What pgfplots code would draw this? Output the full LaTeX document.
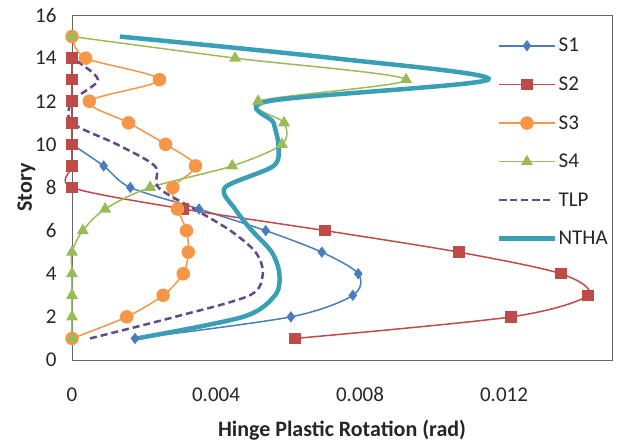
\documentclass[border=0pt]{standalone}
\usepackage{fontspec}
\setmainfont{Carlito}
\usepackage{pgfplots}
\pgfplotsset{compat=1.18}
\definecolor{cS1}{HTML}{4A7EBB}
\definecolor{cS2}{HTML}{BE4B48}
\definecolor{cS3}{HTML}{F79646}
\definecolor{cS4}{HTML}{9BBB59}
\definecolor{cTLP}{HTML}{5F4B8B}
\definecolor{cNTHA}{HTML}{3A9FB5}
\begin{document}
\begin{tikzpicture}
\begin{axis}[
  name=ax,
  scale only axis, width=540pt, height=345pt,
  xmin=0, xmax=0.015, ymin=0, ymax=16,
  scaled x ticks=false,
  xtick={0,0.004,0.008,0.012}, xticklabels={0,0.004,0.008,0.012},
  ytick={0,2,4,6,8,10,12,14,16},
  /pgf/number format/assume math mode=true,
  tick label style={font=\fontsize{21}{24}\selectfont, text=black!85},
  xticklabel style={yshift=-24pt},
  yticklabel style={xshift=-12pt},
  major tick length=0pt,
  axis line style={draw=gray!80!black, line width=0.8pt},
  clip=false,
  xlabel={\textbf{Hinge Plastic Rotation (rad)}},
  ylabel={\textbf{Story}},
  label style={font=\fontsize{22}{26}\selectfont, text=black!85},
  xlabel style={at={(axis description cs:0.5,-0.2203)}, anchor=base},
  ylabel style={at={(axis description cs:-0.0741,0.5)}, anchor=base},
  legend cell align=left,
  legend style={at={(rel axis cs:0.787,0.939)}, anchor=north west, draw=none, fill=none,
    font=\fontsize{21}{24}\selectfont, text=black!85, row sep=19.5pt, inner sep=0pt,
    nodes={inner sep=2pt}},
  legend image code/.code={\draw[mark repeat=2,mark phase=2] plot coordinates {(0pt,0pt) (27.5pt,0pt) (55pt,0pt)};},
  every axis plot/.append style={smooth, tension=0.5},
]
\addplot[cS1, line width=1.5pt, mark=diamond*, mark size=4.5pt, mark options={solid, fill=cS1, draw=cS1}]
 coordinates {(0.00175,1) (0.00608,2) (0.0078,3) (0.00795,4) (0.00694,5) (0.00538,6) (0.00353,7) (0.00162,8) (0.00088,9) (0,10)};
\addlegendentry{S1}
\addplot[cS2, line width=1.5pt, mark=square*, mark size=5pt, mark options={solid, fill=cS2, draw=cS2}]
 coordinates {(0.0062,1) (0.0122,2) (0.01433,3) (0.01358,4) (0.01075,5) (0.00703,6) (0.0031,7) (0,8) (0,9) (0,10) (0,11) (0,12) (0,13) (0,14)};
\addlegendentry{S2}
\addplot[cS3, line width=1.5pt, mark=*, mark size=6pt, mark options={solid, fill=cS3, draw=cS3}]
 coordinates {(0,1) (0.00152,2) (0.00253,3) (0.00309,4) (0.00323,5) (0.00318,6) (0.00293,7) (0.0028,8) (0.00343,9) (0.0026,10) (0.00157,11) (0.00048,12) (0.00243,13) (0.00038,14) (0,15)};
\addlegendentry{S3}
\addplot[cS4, line width=1.5pt, mark=triangle*, mark size=5.5pt, mark options={solid, fill=cS4, draw=cS4}]
 coordinates {(0,1) (0,2) (0,3) (0,4) (0,5) (0.0003,6) (0.00092,7) (0.00217,8) (0.00445,9) (0.00583,10) (0.00589,11) (0.00517,12) (0.00928,13) (0.00453,14) (0,15)};
\addlegendentry{S4}
\addplot[cTLP, line width=2.5pt, dash pattern=on 7pt off 4pt, no marks]
 coordinates {(0.0005,1) (0.00286,2) (0.00494,3) (0.0053,4) (0.0051,5) (0.0044,6) (0.0034,7) (0.0024,8) (0.0023,9) (0.00125,10) (0,11) (0,12) (0.00072,13) (0,14)};
\addlegendentry{TLP}
\addplot[cNTHA, line width=4.5pt, no marks]
 coordinates {(0.0018,1) (0.00475,2) (0.00564,3) (0.00576,4) (0.00555,5) (0.005,6) (0.00453,7) (0.00425,8) (0.0056,9) (0.00573,10) (0.0056,11) (0.00545,12) (0.01156,13) (0.00725,14) (0.00133,15)};
\addlegendentry{NTHA}
\end{axis}
\pgfresetboundingbox
\path (ax.south west) ++(-72pt,-83pt) rectangle ++(619pt,443pt);
\end{tikzpicture}
\end{document}
